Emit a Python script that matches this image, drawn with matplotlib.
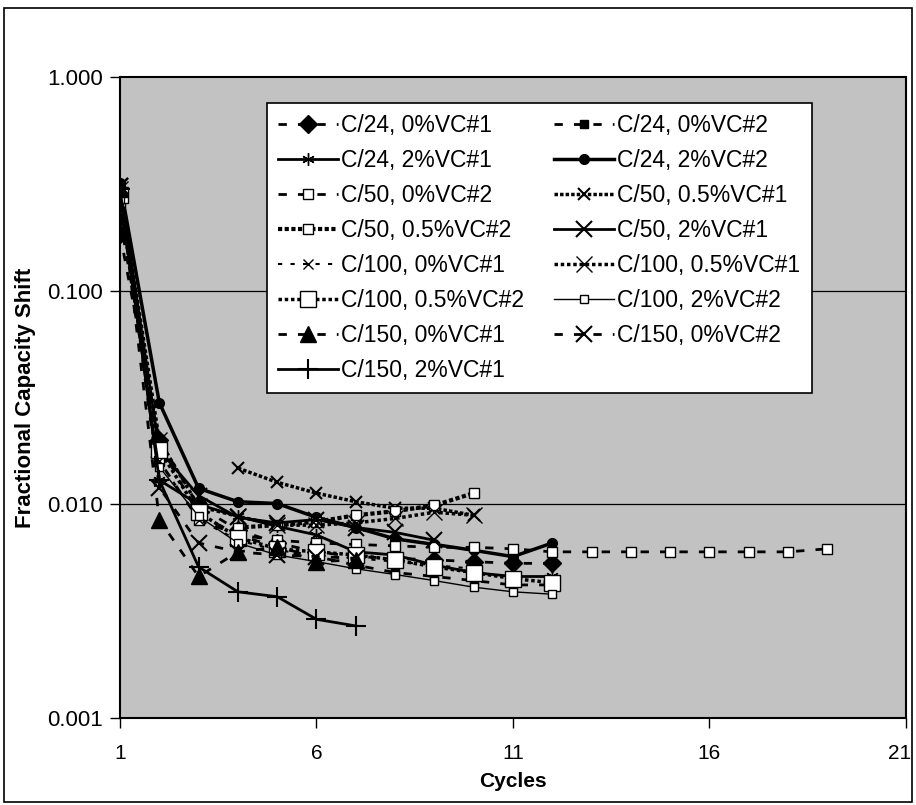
import matplotlib
matplotlib.use("Agg")
import matplotlib.pyplot as plt
import matplotlib.transforms as mtransforms
from matplotlib.ticker import FixedLocator, NullLocator, FuncFormatter

plt.rcParams['font.family'] = ['Liberation Sans', 'DejaVu Sans']

# cycles and fractional capacity shift
c24_0_1 = [0.185, 0.020, 0.0098, 0.0076, 0.0066, 0.0060, 0.0057, 0.0056, 0.0055, 0.0054, 0.0053, 0.0053]
c24_0_2 = [0.22, 0.019, 0.0090, 0.0072, 0.0063, 0.0057, 0.0052, 0.0048, 0.0046, 0.0044, 0.0042, 0.0042]
c24_2_1 = [0.30, 0.013, 0.0100, 0.0088, 0.0079, 0.0072, 0.0060, 0.0058, 0.0052, 0.0048, 0.0046, 0.0046]
c24_2_2 = [0.32, 0.030, 0.0119, 0.0103, 0.0101, 0.0087, 0.0078, 0.0069, 0.0065, 0.0061, 0.0057, 0.0066]
c50_0_2 = [0.26, 0.016, 0.0085, 0.0072, 0.0068, 0.0066, 0.0065, 0.0064, 0.0063, 0.0063,
           0.0062, 0.0060, 0.0060, 0.0060, 0.0060, 0.0060, 0.0060, 0.0060, 0.0062]
c50_05_1 = [0.0148, 0.0127, 0.0113, 0.0103, 0.0096, 0.0096, 0.0089]
c50_05_2 = [0.0078, 0.0080, 0.0083, 0.0089, 0.0093, 0.0099, 0.0113]
c50_2_1 = [0.31, 0.018, 0.0110, 0.0087, 0.0082, 0.0085, 0.0078, 0.0074, 0.0068]
c100_0_1 = [0.30, 0.016, 0.0085, 0.0068, 0.0061, 0.0058, 0.0056, 0.0054, 0.0052, 0.0050]
c100_05_1 = [0.30, 0.020, 0.0098, 0.0088, 0.0080, 0.0080, 0.0082, 0.0086, 0.0092, 0.0089]
c100_05_2 = [0.28, 0.018, 0.0092, 0.0070, 0.0062, 0.0060, 0.0058, 0.0055, 0.0051, 0.0048, 0.0045, 0.0043]
c100_2_2 = [0.27, 0.015, 0.0088, 0.0066, 0.0058, 0.0054, 0.0050, 0.0047, 0.0044, 0.0041, 0.0039, 0.0038]
c150_0_1 = [0.30, 0.0085, 0.0046, 0.0060, 0.0063, 0.0054, 0.0055]
c150_0_2 = [0.31, 0.012, 0.0066, 0.0060, 0.0058, 0.0057, 0.0056]
c150_2_1 = [0.30, 0.013, 0.0051, 0.0039, 0.0037, 0.0029, 0.0027]

# (label, first cycle, values, style)
series = [
    ("C/24, 0%VC#1", 1, c24_0_1, dict(ls=(0, (3, 4)), lw=2, marker='D', ms=9, mfc='k')),
    ("C/24, 0%VC#2", 1, c24_0_2, dict(ls=(0, (3, 4)), lw=2, marker='s', ms=6, mfc='k')),
    ("C/24, 2%VC#1", 1, c24_2_1, dict(ls='-', lw=2, marker=(6, 2, 0), ms=9)),
    ("C/24, 2%VC#2", 1, c24_2_2, dict(ls='-', lw=2.5, marker='o', ms=7, mfc='k')),
    ("C/50, 0%VC#2", 1, c50_0_2, dict(ls=(0, (3, 4)), lw=2, marker='s', ms=7, mfc='white')),
    ("C/50, 0.5%VC#1", 4, c50_05_1, dict(ls=(0, (1, 0.6)), lw=2.5, marker='x', ms=9, mew=1.5)),
    ("C/50, 0.5%VC#2", 4, c50_05_2, dict(ls=(0, (1, 0.6)), lw=3, marker='s', ms=7, mfc='white')),
    ("C/50, 2%VC#1", 1, c50_2_1, dict(ls='-', lw=2, marker='x', ms=11, mew=1.5)),
    ("C/100, 0%VC#1", 1, c100_0_1, dict(ls=(0, (2, 4)), lw=1.5, marker='x', ms=7, mew=1)),
    ("C/100, 0.5%VC#1", 1, c100_05_1, dict(ls=(0, (1, 0.8)), lw=2.5, marker='x', ms=12, mew=1)),
    ("C/100, 0.5%VC#2", 1, c100_05_2, dict(ls=(0, (1, 0.8)), lw=2.5, marker='s', ms=11, mfc='white')),
    ("C/100, 2%VC#2", 1, c100_2_2, dict(ls='-', lw=1, marker='s', ms=6, mfc='white')),
    ("C/150, 0%VC#1", 1, c150_0_1, dict(ls=(0, (3, 4)), lw=2, marker='^', ms=11, mfc='k')),
    ("C/150, 0%VC#2", 1, c150_0_2, dict(ls=(0, (3, 4)), lw=2, marker='x', ms=11, mew=1.5)),
    ("C/150, 2%VC#1", 1, c150_2_1, dict(ls='-', lw=2, marker='+', ms=14, mew=1.5)),
]

fig = plt.figure(figsize=(9.16, 8.05), dpi=100)
fig.patches.append(plt.Rectangle((0.004, 0.004), 0.992, 0.986, transform=fig.transFigure,
                                 fill=False, edgecolor='k', lw=1.2))
ax = fig.add_axes([0.131, 0.108, 0.858, 0.796])
ax.set_facecolor('#c2c2c2')

handles = []
for label, start, vals, st in series:
    cycles = list(range(start, start + len(vals)))
    h, = ax.plot(cycles, vals, color='k', mec='k', label=label, **st)
    handles.append(h)

ax.set_yscale('log')
ax.set_ylim(0.001, 1.0)
ax.set_xlim(1, 21)
ax.xaxis.set_major_locator(FixedLocator([1, 6, 11, 16, 21]))
ax.yaxis.set_major_locator(FixedLocator([0.001, 0.01, 0.1, 1.0]))
ax.yaxis.set_minor_locator(NullLocator())
ax.yaxis.set_major_formatter(FuncFormatter(lambda v, p: f"{v:.3f}"))
ax.tick_params(length=7, width=1, direction='out')
ax.tick_params(axis='y', labelsize=16, pad=5)
ax.tick_params(axis='x', labelsize=15, pad=12)
for y in [0.01, 0.1]:
    ax.axhline(y, color='k', lw=0.9, zorder=1)
for s in ax.spines.values():
    s.set_linewidth(1.5)

# keep the last x label inside the figure frame
last = ax.get_xticklabels()[-1]
last.set_transform(last.get_transform() + mtransforms.ScaledTranslation(-6 / 100, 0, fig.dpi_scale_trans))

ax.set_xlabel("Cycles", fontsize=15, fontweight='bold', labelpad=6)
ax.set_ylabel("Fractional Capacity Shift", fontsize=16, fontweight='bold', labelpad=8)

# legend is filled row by row in the picture
order = list(range(0, 15, 2)) + list(range(1, 15, 2))
leg = ax.legend([handles[i] for i in order], [series[i][0] for i in order],
                ncol=2, loc='upper left', bbox_to_anchor=(0.187, 0.96), fontsize=16.5,
                frameon=True, fancybox=False, edgecolor='k', framealpha=1,
                handlelength=2.6, handletextpad=0.15, columnspacing=1.3,
                labelspacing=0.52, borderpad=0.5, borderaxespad=0)
leg.get_frame().set_linewidth(1.2)

fig.savefig("out.png", dpi=100)
